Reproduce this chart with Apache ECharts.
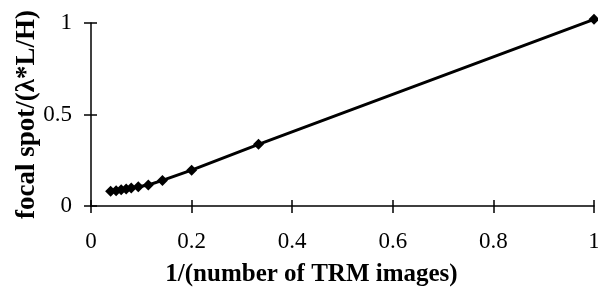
<!DOCTYPE html>
<html>
<head>
<meta charset="utf-8">
<script src="https://cdn.jsdelivr.net/npm/echarts@6/dist/echarts.min.js"></script>
<style>html,body{margin:0;padding:0;background:#fff}#c{width:598px;height:291px}</style>
</head>
<body>
<div id="c"></div>
<script>
var xValues = [0.039, 0.050, 0.060, 0.070, 0.080, 0.094, 0.114, 0.142, 0.200, 0.333, 1.000];
var yValues = [0.080, 0.084, 0.089, 0.093, 0.098, 0.105, 0.115, 0.140, 0.196, 0.337, 1.020];
var xTitle = '1/(number of TRM images)';
var yTitle = 'focal spot/(\u03bb*L/H)';

var data = xValues.map(function (x, i) { return [x, yValues[i]]; });
var font = 'Liberation Serif';
var chart = echarts.init(document.getElementById('c'));
var axisBase = {
  type: 'value', min: 0, max: 1,
  splitLine: { show: false }
};
chart.setOption({
  animation: false,
  grid: { left: 91, right: 4, top: 23, bottom: 85, outerBoundsMode: 'none', containLabel: false },
  xAxis: [
    Object.assign({}, axisBase, {
      interval: 0.2,
      position: 'bottom',
      axisLine: { show: true, lineStyle: { color: '#000', width: 1.5 } },
      axisTick: { show: true, length: 7, lineStyle: { color: '#000', width: 1.5 } },
      axisLabel: { color: '#000', fontFamily: font, fontSize: 23, margin: 24 },
      name: xTitle, nameLocation: 'middle', nameGap: 56, nameMoveOverlap: false,
      nameTextStyle: { color: '#000', fontFamily: font, fontSize: 25, fontWeight: 'bold', padding: [0, 62, 0, 0] }
    }),
    Object.assign({}, axisBase, {
      interval: 0.2,
      position: 'bottom',
      axisLine: { show: false },
      axisTick: { show: true, inside: true, length: 6, lineStyle: { color: '#000', width: 1.5 } },
      axisLabel: { show: false }
    })
  ],
  yAxis: [
    Object.assign({}, axisBase, {
      interval: 0.5,
      position: 'left',
      axisLine: { show: true, lineStyle: { color: '#000', width: 1.5 } },
      axisTick: { show: true, length: 7, lineStyle: { color: '#000', width: 1.5 } },
      axisLabel: { color: '#000', fontFamily: font, fontSize: 23, margin: 19 },
      name: yTitle, nameLocation: 'middle', nameGap: 50, nameMoveOverlap: false,
      nameTextStyle: { color: '#000', fontFamily: font, fontSize: 27, fontWeight: 'bold' }
    }),
    Object.assign({}, axisBase, {
      interval: 0.5,
      position: 'left',
      axisLine: { show: false },
      axisTick: { show: true, inside: true, length: 6, lineStyle: { color: '#000', width: 1.5 } },
      axisLabel: { show: false }
    })
  ],
  series: [{
    type: 'line',
    xAxisIndex: 0, yAxisIndex: 0,
    data: data,
    clip: false,
    symbol: 'diamond',
    symbolSize: 11,
    itemStyle: { color: '#000' },
    lineStyle: { color: '#000', width: 3 }
  }]
});
</script>
</body>
</html>
